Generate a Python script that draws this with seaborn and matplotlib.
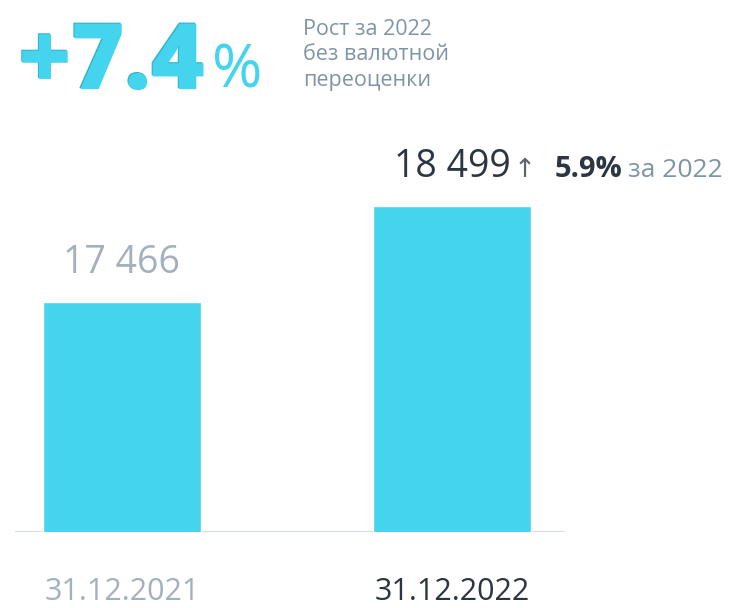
import matplotlib
matplotlib.use('Agg')
import matplotlib.pyplot as plt
import matplotlib.patheffects as pe
import seaborn as sns

# Data
dates = ['31.12.2021', '31.12.2022']
values = [17466, 18499]
value_labels = ['17 466', '18 499']
growth_total = '+7.4'
growth_year = '5.9%'
subtitle = ['Рост за 2022', 'без валютной', 'переоценки']

cyan = '#45d4ee'
dark = '#2b3641'
gray = '#a3b1bf'
slate = '#7f95a6'
label_colors = [gray, dark]

sns.set_style('white')
plt.rcParams['font.family'] = ['Open Sans', 'DejaVu Sans']

W, H = 733, 608
fig = plt.figure(figsize=(W / 100, H / 100), dpi=100)
ax = fig.add_axes([15 / W, 1 - 532 / H, 550 / W, 432 / H])

sns.barplot(x=dates, y=values, color=cyan, width=0.479, saturation=1, ax=ax)
ax.set_ylim(15000, 19635)
ax.set_xlim(-0.324, 1.342)
sns.despine(ax=ax, left=True, bottom=True)
ax.set_xticks([])
ax.set_yticks([])
ax.set_xlabel('')
ax.set_ylabel('')
ax.axhline(15000, color='#d3dce4', lw=1.5, zorder=0)

# value labels above bars
for i, (v, lab) in enumerate(zip(values, value_labels)):
    ax.annotate(lab, xy=(i, v), xytext=(0, 21), textcoords='offset points',
                ha='center', va='baseline', fontsize=27, color=label_colors[i])

# arrow and yearly growth next to the second bar
ax.annotate('↑', xy=(1, values[1]), xytext=(44, 21), textcoords='offset points',
            ha='left', va='baseline', fontsize=19, color='#5a6570',
            family=['DejaVu Sans'])
ax.annotate(growth_year, xy=(1, values[1]), xytext=(74, 21), textcoords='offset points',
            ha='left', va='baseline', fontsize=21, fontweight='bold', color=dark)
ax.annotate('за 2022', xy=(1, values[1]), xytext=(127, 21), textcoords='offset points',
            ha='left', va='baseline', fontsize=19, color=slate)

# date labels under the bars
for i, d in enumerate(dates):
    ax.text(i, -68 / 432, d, transform=ax.get_xaxis_transform(),
            ha='center', va='baseline', fontsize=22, color=label_colors[i])

# header with a slight inset look
inset = [pe.PathPatchEffect(facecolor='#35b3cb', edgecolor='none'),
         pe.PathPatchEffect(offset=(0.8, -0.8), facecolor=cyan, edgecolor='none')]
fig.text(18 / W, 1 - 88 / H, growth_total, fontsize=66, fontweight='heavy',
         color=cyan, ha='left', va='baseline', path_effects=inset)
fig.text(212 / W, 1 - 88 / H, '%', fontsize=44, color=cyan, ha='left', va='baseline')
for k, line in enumerate(subtitle):
    fig.text(303 / W, 1 - (35 + 25.5 * k) / H, line, fontsize=15.5, color=slate,
             ha='left', va='baseline')

fig.savefig('out.png', dpi=100)
